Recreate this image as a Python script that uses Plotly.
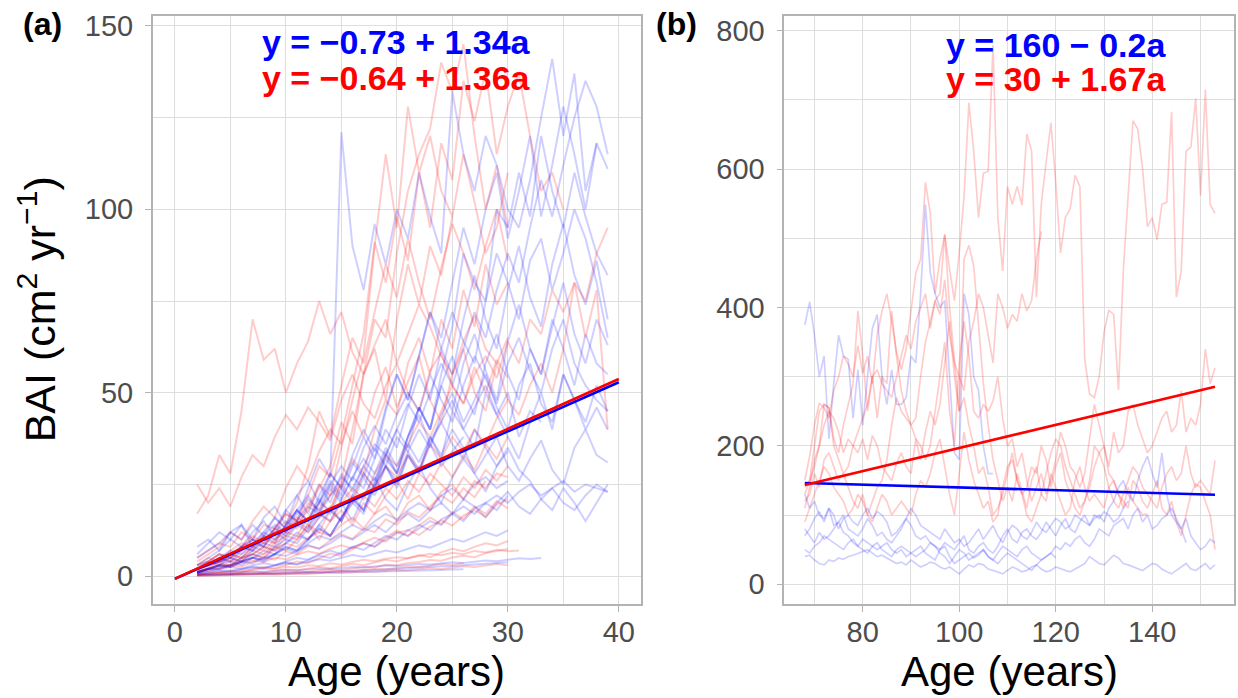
import plotly.graph_objects as go

W, H = 1238, 698

# ---------------- panel (a): young trees, BAI by age (first ring at age 2) ----------------
A_START = 2
red_a = [
    [0.3, 0.4, 0.4, 0.6, 0.5, 0.8, 0.9, 0.9, 1.2, 1.3, 1.2, 1.6, 1.8, 1.7, 2.2, 2.5, 2.4, 3.1, 3.0, 3.6, 3.9, 4.4, 4.2, 5.1, 5.6, 5.2, 6.3, 6.8, 7.4],
    [0.2, 0.3, 0.3, 0.4, 0.5, 0.5, 0.7, 0.6, 0.8, 0.9, 1.1, 1.0, 1.3, 1.5, 1.4, 1.7, 2.0, 1.9, 2.3, 2.6, 2.5, 2.9, 3.3, 3.1, 3.6],
    [0.5, 0.8, 1.0, 1.3, 1.2, 1.8, 2.1, 1.9, 2.6, 2.4, 3.0, 2.8, 3.5, 3.2, 3.9, 4.5, 4.1, 4.8, 5.2, 4.9, 5.5, 6.1, 5.7, 6.4, 6.0, 6.9, 6.5, 7.2, 6.8, 7.0],
    [1.2, 2.0, 2.8, 2.5, 3.6, 4.2, 3.8, 5.1, 4.6, 5.9, 6.8, 6.1, 7.5, 8.4, 7.6, 9.2, 10.5, 9.4, 11.8, 12.6, 11.2, 13.5, 15.2, 13.8, 16.5, 18.0, 16.2, 19.5, 21.0],
    [3, 5, 4, 7, 9, 8, 11, 10, 13, 15, 12, 16, 18, 15, 20, 22, 19, 24, 21, 26, 23, 28, 25, 22, 27, 24, 29, 26, 30],
    [17, 22, 33, 28, 45, 70, 59, 62, 50, 58, 64, 75, 66, 72, 61, 55, 63, 70, 58, 66, 74, 68, 60, 55, 64, 71, 62, 58, 65],
    [25, 20, 24, 19, 27, 33, 30, 38, 44, 40, 46, 42, 37, 48, 55, 47, 43, 52, 58, 50, 45, 56, 61, 52, 47, 57, 50, 59, 54],
    [2, 3, 4, 5, 7, 9, 8, 12, 15, 13, 19, 25, 22, 35, 48, 60, 90, 115, 95, 128, 110, 120, 105, 98, 115, 102, 88, 95, 110],
    [1, 2, 2, 3, 4, 5, 6, 8, 7, 10, 14, 12, 18, 26, 40, 55, 70, 65, 88, 105, 115, 122, 140, 132, 145, 120, 100, 112, 95],
    [3, 4, 6, 5, 8, 10, 9, 13, 17, 15, 22, 30, 27, 38, 52, 66, 91, 80, 98, 86, 110, 95, 118, 108, 135, 124, 138, 115, 128, 137, 120, 105, 110, 100],
    [2, 3, 5, 4, 6, 8, 7, 10, 12, 11, 16, 20, 18, 25, 32, 28, 40, 48, 44, 58, 65, 55, 70, 62, 78, 68, 85, 74, 80],
    [2, 3, 4, 4, 5, 7, 6, 9, 11, 10, 14, 17, 15, 20, 24, 21, 28, 33, 30, 36, 42, 38, 45, 52, 47, 55, 60, 54, 64, 58, 70, 66, 78, 72, 80, 75, 88, 95],
    [5, 7, 9, 8, 12, 10, 14, 13, 17, 15, 20, 18, 22, 25, 21, 28, 24, 30, 27, 33, 29, 36, 32, 38, 34, 40, 36, 43, 48, 44, 52, 58, 50, 62, 80, 65, 78, 40],
    [0.8, 1.5, 2.2, 3.0, 2.6, 4.0, 5.2, 4.5, 6.8, 6.0, 8.2, 7.5, 9.8, 11.5, 10.2, 13.0, 12.0, 15.5, 14.0, 17.5, 16.0, 19.0, 22.0, 20.0, 24.0, 21.5, 26.0],
    [4, 6, 8, 12, 10, 15, 19, 16, 24, 30, 26, 34, 40, 36, 45, 38, 50, 57, 46, 53, 60, 48, 42, 55, 62, 50, 45, 58, 48],
    [0.5, 0.7, 1.0, 1.4, 1.2, 1.9, 2.5, 2.2, 3.1, 4.0, 3.6, 4.9, 6.2, 5.5, 7.4, 9.0, 8.1, 10.6, 12.5, 11.0, 13.8, 16.0, 14.2, 17.5, 15.6, 19.0, 17.0, 20.5, 18.5],
    [2, 3, 4, 6, 5, 8, 10, 9, 14, 20, 30, 45, 38, 52, 65, 58, 72, 85, 76, 92, 80, 70, 84, 96, 88, 78, 90, 100, 86],
    [1, 2, 3, 3, 5, 6, 8, 7, 11, 14, 18, 24, 30, 42, 36, 55, 62, 48, 70, 85, 74, 90, 82, 98],
    [1.5, 2.5, 3.5, 3.0, 4.5, 6, 5, 7.5, 9, 8, 10.5, 12, 11, 14, 16, 13, 17, 19, 15, 20, 22, 18, 23, 25, 21, 26, 24, 28, 27],
    [0.1, 0.2, 0.2, 0.3, 0.3, 0.4, 0.5, 0.4, 0.6, 0.7, 0.6, 0.8, 1.0, 0.9, 1.1, 1.3, 1.2, 1.5, 1.7, 1.6, 1.9, 2.2, 2.0, 2.4, 2.7, 2.5, 2.9, 3.3, 3.0],
    [2, 4, 6, 5, 8, 11, 9, 13, 12, 16, 14, 10, 15, 18, 14, 20, 17, 22, 26, 21, 28, 25, 31, 27, 33, 29, 36, 32, 38],
    [0.4, 0.6, 0.8, 0.7, 1.0, 1.3, 1.1, 1.5, 1.8, 1.6, 2.1, 2.5, 2.2, 2.8, 3.3, 3.0, 3.8, 4.5, 4.0, 5.0, 5.8, 5.2, 6.5, 7.5, 6.8, 8.0, 9.0, 8.4, 9.6],
]
blue_a = [
    [0.2, 0.3, 0.3, 0.4, 0.4, 0.5, 0.6, 0.6, 0.7, 0.8, 0.8, 0.9, 1.0, 1.1, 1.1, 1.2, 1.3, 1.4, 1.4, 1.5, 1.6, 1.7, 1.7, 1.8, 1.9],
    [0.5, 0.7, 0.9, 0.8, 1.1, 1.3, 1.2, 1.5, 1.7, 1.6, 1.9, 2.1, 2.0, 2.3, 2.5, 2.4, 2.7, 2.9, 2.8, 3.1, 3.3, 3.2, 3.5, 3.8, 3.6, 4.0, 4.3, 4.1, 4.6, 4.9, 4.7, 5.0],
    [1, 1.5, 2, 2.5, 2, 3, 3.5, 3, 4, 5, 4.5, 6, 7, 6, 8, 9, 8, 10, 12, 11, 13, 15, 14, 17, 19, 17, 20, 22, 20, 23, 25, 22, 24, 26, 23, 25, 24, 23],
    [6, 9, 12, 10, 14, 8, 12, 16, 13, 18, 22, 17, 24, 20, 15, 22, 27, 21, 18, 25, 30, 24, 20, 27, 32, 28, 23, 30, 35, 29, 26, 21, 18, 24, 20, 15, 20, 25],
    [3, 5, 7, 10, 8, 12, 15, 11, 18, 22, 17, 25, 20, 28, 23, 30, 26, 34, 28, 36, 31, 38, 33, 40, 35, 28, 33, 38, 30, 26, 32, 37, 29, 25, 35, 40, 33, 31],
    [2, 3, 4, 5, 4, 6, 8, 7, 9, 12, 10, 14, 11, 16, 20, 17, 24, 30, 26, 34, 40, 35, 44, 50, 42, 48, 55, 46, 40, 52, 58, 47, 42, 55, 48, 40, 46, 40],
    [3, 4, 6, 5, 8, 10, 8, 12, 10, 14, 12, 16, 19, 15, 22, 18, 25, 30, 24, 33, 28, 38, 32, 45, 40, 35, 50, 44, 38, 32, 42, 50, 40, 55, 48, 42, 52, 45],
    [1, 2, 3, 4, 3, 5, 7, 6, 9, 11, 10, 14, 18, 15, 22, 28, 24, 33, 40, 35, 46, 40, 52, 60, 50, 44, 58, 66, 55, 48, 62, 55, 70, 62, 52, 66, 58, 55],
    [1.5, 2, 3, 2.5, 4, 5, 4.5, 6, 8, 7, 10, 13, 11, 16, 21, 18, 26, 33, 28, 38, 46, 40, 52, 45, 58, 66, 56, 48, 64, 74, 62, 55, 68, 80, 66, 58, 70, 63],
    [2, 3, 4, 6, 5, 8, 11, 9, 14, 18, 15, 22, 28, 24, 33, 40, 34, 46, 55, 48, 60, 72, 62, 55, 70, 82, 70, 62, 78, 90, 76, 68, 85, 96, 82, 74, 86, 70],
    [1, 2, 3, 5, 4, 7, 9, 8, 12, 15, 13, 20, 26, 22, 30, 38, 32, 45, 55, 48, 60, 72, 65, 80, 95, 85, 100, 110, 92, 105, 120, 98, 112, 128, 115, 100, 118, 111],
    [2, 3, 5, 4, 7, 10, 8, 13, 18, 15, 24, 32, 27, 121, 90, 78, 96, 85, 100, 92, 110, 98, 88, 132, 115, 105, 120, 112, 100, 95, 108, 125, 141, 120, 137, 105, 118],
    [2, 4, 3, 6, 8, 7, 11, 14, 12, 17, 21, 18, 25, 30, 26, 35, 41, 36, 44, 50, 45, 55, 48, 42, 52, 60, 54, 47, 58, 65, 56, 50, 62, 70, 58, 52, 48, 45],
    [1, 2, 3, 2.5, 4, 5, 4.5, 6, 7.5, 6.5, 9, 11, 10, 12, 14, 12.5, 15, 17, 15.5, 18, 20, 18, 22, 24, 21, 25, 27, 24, 26],
    [0.6, 1, 1.4, 1.2, 1.8, 2.4, 2.1, 3, 3.8, 3.3, 4.5, 5.6, 5, 6.6, 8, 7.2, 9, 11, 10, 12.5, 14, 12.5, 15.5, 17, 15, 18.5, 20, 18, 22],
    [1, 2, 3, 3, 5, 6, 5, 8, 10, 9, 13, 17, 15, 21, 27, 24, 32, 40, 35, 46, 55, 48, 62, 72, 64, 58, 75, 88, 80, 70, 86, 92, 78, 88, 100, 92, 80, 65],
    [1, 2, 2, 3, 4, 5, 4, 6, 8, 7, 10, 13, 11, 16, 21, 18, 25, 32, 28, 38, 46, 40, 55, 68, 88, 80, 75, 100, 95, 110, 98, 120, 105, 95, 110, 98, 88, 82],
    [1, 2, 2.5, 3, 4, 3.5, 5, 6, 5.5, 7, 8.5, 7.5, 9, 11, 10, 12, 14, 12, 15, 17, 15, 18, 20, 17, 21, 19, 16, 20, 23, 19, 17, 21, 24, 20, 18, 22, 25, 23],
    [5, 7, 9, 12, 10, 14, 11, 16, 13, 18, 15, 21, 17, 24, 20, 27, 22, 30, 25, 33, 28, 36, 30, 34, 38],
    [2, 3, 5, 7, 6, 9, 12, 10, 14, 18, 15, 20, 25, 21, 27, 32, 28, 35, 30, 38, 44, 36, 42, 48, 40, 46, 52, 44, 50, 38, 45, 42],
    [2, 3, 4, 6, 8, 7, 10, 13, 11, 15, 19, 17, 22, 27, 24, 30, 36, 33, 40, 47, 42, 50, 58, 52, 62, 72, 65, 78, 88, 80, 95, 108, 98, 112, 125, 135, 128, 115],
    [8, 10, 7, 12, 14, 10, 16, 19, 14, 22, 26, 20, 28, 24, 31, 27, 35, 30, 38, 34, 29, 37, 42, 36, 32, 40, 35, 30, 34],
    [0.3, 0.4, 0.5, 0.5, 0.6, 0.7, 0.8, 0.8, 0.9, 1.0, 1.1, 1.2, 1.2, 1.4, 1.5, 1.6, 1.7, 1.9, 2.0, 2.2, 2.3, 2.5, 2.7, 2.8, 3.0, 3.2, 3.3, 3.5, 3.8],
    [0.8, 1.2, 1.6, 1.5, 2.0, 2.6, 2.3, 3.0, 3.5, 3.2, 4.0, 4.6, 4.2, 5.0, 5.8, 5.3, 6.2, 7.0, 6.5, 7.5, 8.4, 7.8, 9.0, 10.2, 9.4, 10.8, 12.0, 11.0, 12.5],
]

# ---------------- panel (b): old trees, BAI by age (from age 68) ----------------
B_START = 68
red_b = [
    [150, 185, 230, 262, 255, 240, 280, 300, 330, 318, 300, 345, 305, 330, 290, 360, 395, 420, 380, 335,
     310, 340, 395, 450, 470, 581, 536, 420, 470, 505, 455, 410, 479, 560, 696, 626, 530, 594, 597, 779,
     530, 453, 575, 549, 575, 548, 651, 626, 415, 549, 610, 667, 581, 479, 530, 543, 591, 575, 326, 275,
     270, 300, 364, 396, 390, 281, 453, 560, 670, 658, 600, 517, 530, 498, 549, 552, 683, 415, 453, 626,
     632, 702, 562, 715, 549, 536],
    [110, 140, 180, 200, 260, 255, 210, 190, 230, 260, 290, 395, 330, 250, 300, 240, 300, 290, 395, 330,
     280, 250, 230, 240, 300, 350, 380, 410, 420, 506, 400, 330, 250, 470, 490, 460, 380, 290, 230, 180,
     150, 120, 140, 120, 160, 135, 110, 150, 170, 130, 120, 160, 140, 120, 100, 110, 150, 170, 140, 120,
     130, 120, 110, 140, 150, 130, 120, 110, 150, 140, 120, 110, 130, 150, 110, 100, 120, 90, 70, 100,
     130, 145, 140, 120, 100, 50],
    [140, 150, 170, 200, 230, 250, 240, 220, 190, 210, 200, 190, 210, 180, 215, 200, 170, 160, 150, 175,
     190, 170, 160, 210, 180, 220, 250, 230, 260, 320, 380, 300, 250, 270, 230, 200, 160, 170, 140, 100,
     110, 130, 160, 190, 150, 130, 140, 170, 160, 200, 180, 140, 170, 190, 150, 130, 110, 100, 120, 150,
     200, 190, 170, 140, 120, 110, 130, 150, 170, 160, 140, 130, 120, 110, 140, 160, 170, 150, 160, 200,
     160, 140, 150, 140, 130, 179],
    [120, 130, 160, 140, 180, 190, 170, 150, 160, 140, 120, 110, 130, 100, 120, 140, 150, 180, 230, 270,
     250, 240, 230, 210, 200, 180, 200, 250, 300, 350, 250, 200, 320, 380, 330, 250, 240, 260, 250, 265,
     300, 240, 200, 210, 170, 190, 150, 120, 140, 160, 130, 150, 180, 220, 200, 170, 160, 140, 160, 210,
     260, 230, 200, 170, 220, 190, 200, 250, 260, 230, 210, 190, 200, 220, 240, 250, 220, 230, 280, 220,
     240, 230, 260, 340, 290, 313],
    [90, 110, 130, 150, 170, 160, 140, 130, 120, 100, 110, 130, 120, 100, 90, 110, 130, 120, 100, 110,
     120, 110, 100, 130, 150, 140, 160, 190, 210, 170, 130, 100, 160, 220, 180, 150, 130, 110, 120, 90,
     100, 140, 170, 180, 150, 130, 100, 90, 110, 130, 160, 190, 210, 200, 170, 150, 130, 110, 120, 140,
     170, 190, 200, 160, 150, 130, 110, 140, 120, 110, 100, 102],
    [130, 150, 200, 250, 260, 255, 200, 180, 160, 170, 200, 220, 240, 260, 300, 310, 290, 280, 270, 300,
     330, 360, 340, 380, 400, 420, 370, 410, 390, 440, 360, 320, 300, 280, 350, 380, 420, 400, 360, 320,
     420, 400, 370, 390, 380, 420, 395, 410, 470, 510],
]
blue_b = [
    [375, 408, 360, 300, 330, 210, 290, 360, 330, 325, 240, 310, 230, 300, 370, 390, 300, 260, 310, 260,
     260, 270, 330, 320, 420, 549, 450, 420, 400, 410, 300, 190, 180, 420, 390, 300, 280, 200, 160, 160],
    [130, 110, 120, 100, 95, 110, 85, 90, 100, 80, 75, 70, 80, 95, 85, 70, 75, 65, 60, 70,
     80, 95, 85, 70, 65, 70, 60, 55, 50, 60, 55, 50, 60, 70, 50, 45, 55, 60, 50, 45,
     55, 70, 80, 65, 60, 75, 80, 70, 65, 75, 90, 80, 70, 85, 95, 80, 75, 90, 100, 85,
     95, 100, 90, 110, 120, 140, 150, 130, 120, 150, 170, 185, 160, 140, 190, 130, 100, 90, 80, 95,
     70, 60, 50, 55, 65, 60],
    [40, 42, 35, 30, 28, 35, 33, 38, 36, 40, 42, 45, 48, 50, 45, 40, 42, 38, 35, 30,
     32, 28, 35, 30, 25, 28, 32, 30, 25, 22, 25, 20, 15, 22, 28, 25, 30, 28, 22, 20,
     18, 15, 20, 25, 22, 18, 20, 25, 28, 22, 18, 20, 25, 22, 20, 18, 22, 26, 30, 40,
     35, 30, 28, 35, 42, 38, 30, 28, 25, 22, 20, 25, 30, 28, 22, 18, 15, 20, 25, 30,
     22, 20, 25, 30, 22, 28],
    [80, 70, 60, 75, 65, 70, 80, 90, 75, 70, 60, 55, 65, 60, 55, 50, 55, 60, 50, 45,
     50, 40, 45, 50, 55, 45, 40, 35, 50, 55, 40, 30, 35, 40, 45, 38, 42, 50, 40, 35,
     30, 38, 45, 40, 35, 30, 25, 20, 28, 35, 40, 45, 55, 50, 60, 55, 65, 70, 60, 55,
     65, 80, 75, 70, 85, 90, 95, 80, 100, 110, 90, 100, 80, 85, 95, 100, 110, 95, 80, 60],
    [70, 80, 95, 105, 90, 110, 100, 80, 95, 100, 90, 85, 100, 110, 95, 105, 100, 90, 70, 75,
     85, 95, 110, 100, 85, 80, 75, 70, 65, 80, 70, 60, 65, 55, 60, 70, 80, 65, 75, 85,
     70, 60, 75, 85, 80, 70, 65, 75, 90, 80, 75, 85, 95, 90, 80, 85, 100, 95, 90, 85,
     100, 95, 105, 100, 90, 95, 110, 120],
    [50, 45, 55, 60, 70, 65, 60, 55, 50, 60, 65, 55, 50, 45, 55, 60, 50, 45, 40, 50,
     55, 50, 45, 40, 45, 50, 60, 55, 45, 40, 30, 40, 50, 45, 35, 40, 45, 50, 40, 35,
     45, 55, 50, 45, 40, 50, 55, 45, 40, 35, 40, 45, 38],
]

# fitted linear trends: (intercept, slope) and the age span they are drawn over
fit_a = {"blue": (-0.73, 1.34), "red": (-0.64, 1.36)}
fit_b = {"blue": (160, -0.2), "red": (30, 1.67)}
span_a = (0, 40)
span_b = (68, 153)

RED, BLUE = "#ff0000", "#0000ff"
FAINT = {"red": "rgba(255,0,0,0.2)", "blue": "rgba(0,0,255,0.19)"}
FONT = "Liberation Sans, Arial, Helvetica, sans-serif"


def px_x(p):
    return p / W


def px_y(p):
    return 1 - p / H


def equation(a, b):
    num = lambda v: f"{abs(v):g}"
    lead = ("\u2212" if a < 0 else "") + num(a)
    op = "\u2212" if b < 0 else "+"
    return f"y = {lead} {op} {num(b)}a"


fig = go.Figure()


def add_series(groups, start, xa, ya, width):
    # interleave the two groups so neither colour sits entirely on top
    n = max(len(g) for _, g in groups)
    for i in range(n):
        for name, g in groups:
            if i < len(g):
                vals = g[i]
                fig.add_trace(go.Scatter(
                    x=list(range(start, start + len(vals))), y=vals, mode="lines",
                    line=dict(color=FAINT[name], width=width),
                    xaxis=xa, yaxis=ya, hoverinfo="skip", showlegend=False))


add_series([("red", red_a), ("blue", blue_a)], A_START, "x", "y", 2.0)
add_series([("red", red_b), ("blue", blue_b)], B_START, "x2", "y2", 1.7)

for fits, span, xa, ya in [(fit_a, span_a, "x", "y"), (fit_b, span_b, "x2", "y2")]:
    for name in ["blue", "red"]:
        a, b = fits[name]
        xs = list(span)
        fig.add_trace(go.Scatter(
            x=xs, y=[a + b * v for v in xs], mode="lines",
            line=dict(color=RED if name == "red" else BLUE, width=2.6),
            xaxis=xa, yaxis=ya, hoverinfo="skip", showlegend=False))

grid = "#dedede"
border = "#b3b3b3"
tickfont = dict(family=FONT, size=29, color="#4d4d4d")


def axis(domain, rng, dtick, minor_dtick, anchor):
    return dict(
        domain=domain, range=rng, dtick=dtick, tick0=0, anchor=anchor,
        showgrid=True, gridcolor=grid, gridwidth=1.1,
        minor=dict(dtick=minor_dtick, tick0=0, showgrid=True, gridcolor=grid, gridwidth=0.6),
        showline=True, mirror=True, linecolor=border, linewidth=1.5,
        ticks="outside", ticklen=6, tickwidth=1.4, tickcolor=border,
        tickfont=tickfont, zeroline=False, fixedrange=True,
    )


xdom_a = [px_x(152.7), px_x(641.0)]
xdom_b = [px_x(784.3), px_x(1234.3)]
ydom = [px_y(603.3), px_y(10.0)]

fig.update_layout(
    width=W, height=H, margin=dict(l=0, r=0, t=0, b=0),
    paper_bgcolor="white", plot_bgcolor="white",
    xaxis=axis(xdom_a, [-2, 42], 10, 5, "y"),
    yaxis=axis(ydom, [-7.6, 152.7], 50, 25, "x"),
    xaxis2=axis(xdom_b, [63.75, 157], 20, 10, "y2"),
    yaxis2=axis(ydom, [-28.7, 821.5], 200, 100, "x2"),
)
fig.update_xaxes(ticklabelstandoff=-5)
fig.update_yaxes(ticklabelstandoff=6)

ann = []
# equations
for fits, cx, ys in [(fit_a, 396, (36, 73)), (fit_b, 1056, (39, 74))]:
    for name, yy in zip(["blue", "red"], ys):
        ann.append(dict(text=f"<b>{equation(*fits[name])}</b>", x=px_x(cx), y=px_y(yy),
                        xanchor="center", yanchor="middle",
                        font=dict(family=FONT, size=34, color=BLUE if name == "blue" else RED)))
# panel tags
for tag, cx in [("(a)", 42), ("(b)", 676)]:
    ann.append(dict(text=f"<b>{tag}</b>", x=px_x(cx), y=px_y(18), xanchor="center", yanchor="middle",
                    font=dict(family=FONT, size=32, color="black")))
# axis titles
for cx in [396.9, 1009.3]:
    ann.append(dict(text="Age (years)", x=px_x(cx), y=px_y(671.7), xanchor="center", yanchor="middle",
                    font=dict(family=FONT, size=42, color="black")))
ann.append(dict(text="BAI (cm<sup>2</sup> yr<sup>\u22121</sup>)", x=px_x(37), y=px_y(306),
                xanchor="center", yanchor="middle", textangle=-90,
                font=dict(family=FONT, size=43, color="black")))

for a in ann:
    a.update(xref="paper", yref="paper", showarrow=False)
fig.update_layout(annotations=ann)

fig.write_html("out.html")
